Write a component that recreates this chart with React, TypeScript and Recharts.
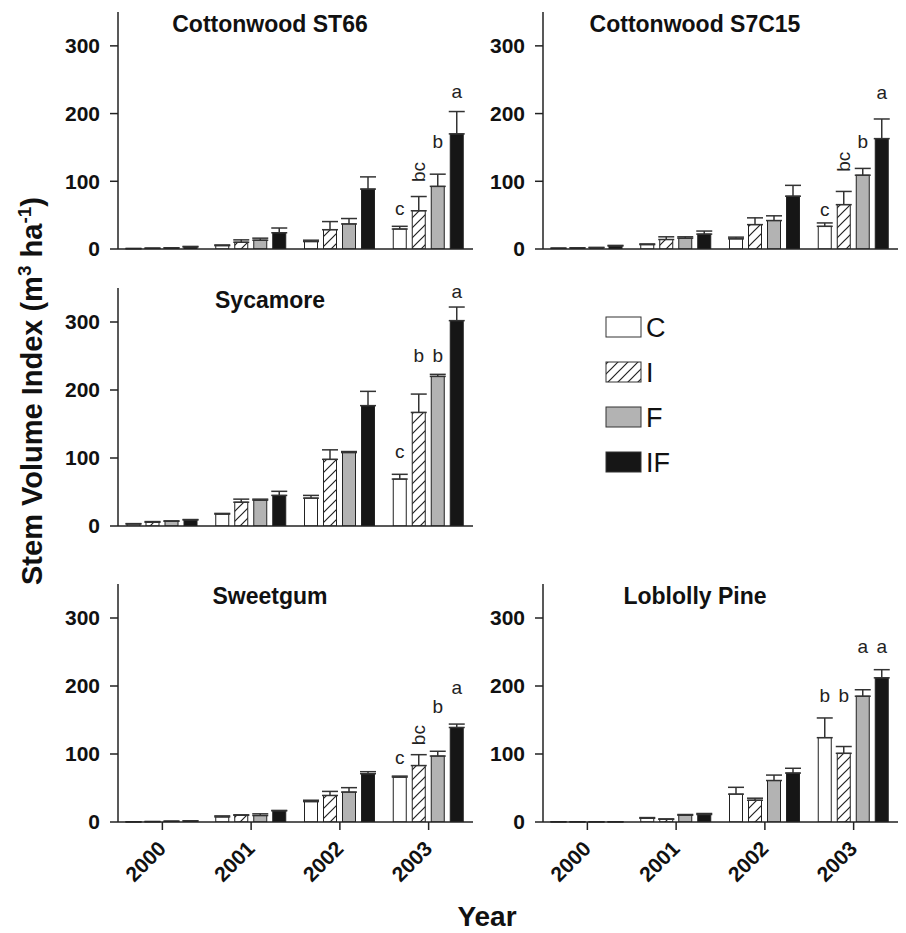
import React from "react";
import { BarChart, Bar, XAxis, YAxis, ErrorBar } from "recharts";

const FONT = "'Liberation Sans', Arial, Helvetica, sans-serif";

const years = ["2000", "2001", "2002", "2003"];
const treatments = ["C", "I", "F", "IF"];
const yTicks = [0, 100, 200, 300];

// Cottonwood ST66 (values per year, then upper error)
const st66C = [0.5, 5, 11, 29.5];
const st66I = [1, 10, 28.5, 56.5];
const st66F = [1.5, 13, 37, 92.5];
const st66IF = [3, 24, 88.5, 170];
const st66CErr = [0.3, 1, 2, 4];
const st66IErr = [0.3, 3.5, 12, 21];
const st66FErr = [0.3, 3, 8, 18];
const st66IFErr = [0.8, 7, 18, 33];
const st66Letters = ["c", "bc", "b", "a"];
const st66LetterAt = [50, 99, 149, 223];

// Cottonwood S7C15
const s7cC = [1, 6.5, 15, 33.5];
const s7cI = [1.5, 14, 36, 65.5];
const s7cF = [2, 16, 42, 109];
const s7cIF = [4.5, 22, 78, 163];
const s7cCErr = [0.3, 1, 2.5, 5];
const s7cIErr = [0.3, 4, 10, 19.5];
const s7cFErr = [0.3, 2, 7, 10];
const s7cIFErr = [0.8, 4.5, 16, 29];
const s7cLetters = ["c", "bc", "b", "a"];
const s7cLetterAt = [49, 114, 149, 222];

// Sycamore
const sycC = [3, 17.5, 41, 69];
const sycI = [5.5, 35, 98, 167];
const sycF = [7, 38, 108, 220];
const sycIF = [9, 45, 177, 302];
const sycCErr = [0.5, 1, 4, 7];
const sycIErr = [1, 4.5, 14, 27];
const sycFErr = [0.5, 1.5, 1.5, 3];
const sycIFErr = [0.5, 6, 21, 20];
const sycLetters = ["c", "b", "b", "a"];
const sycLetterAt = [100, 241, 241, 335];

// Sweetgum
const swgC = [0.2, 7.5, 30, 66];
const swgI = [0.5, 10, 39, 83];
const swgF = [1, 9.5, 44, 97];
const swgIF = [1.5, 16.5, 71, 139];
const swgCErr = [0.2, 1.5, 2, 1.5];
const swgIErr = [0.2, 0.5, 6, 16];
const swgFErr = [0.2, 2.5, 6.5, 7];
const swgIFErr = [0.2, 0.5, 3, 5];
const swgLetters = ["c", "bc", "b", "a"];
const swgLetterAt = [85, 113, 160, 188];

// Loblolly Pine
const lobC = [0.3, 5.5, 41, 124];
const lobI = [0.3, 4, 32, 101];
const lobF = [0.3, 10, 61, 185];
const lobIF = [0.3, 11, 72, 212];
const lobCErr = [0.1, 1, 10, 29];
const lobIErr = [0.1, 0.5, 3, 10];
const lobFErr = [0.1, 1, 8, 9.5];
const lobIFErr = [0.1, 1.5, 7, 12];
const lobLetters = ["b", "b", "a", "a"];
const lobLetterAt = [176, 176, 249, 249];

const fills: Record<string, string> = {
  C: "#ffffff",
  I: "url(#hatch)",
  F: "#b3b3b3",
  IF: "#161616",
};

function buildRows(vals: number[][], errs: number[][]) {
  return years.map((year, i) => {
    const row: any = { year };
    treatments.forEach((t, j) => {
      row[t] = vals[j][i];
      row[t + "_e"] = [0, errs[j][i]];
    });
    return row;
  });
}

const makeShape = (key: string, letter: string, at: number) => (p: any) => {
  const { x, y, width, height, payload } = p;
  const v = payload[key];
  const isLast = payload.year === years[years.length - 1];
  let label = null;
  if (isLast && v > 0 && height > 0) {
    const k = height / v;
    const zeroY = y + height;
    const ty = zeroY - at * k;
    const cx = x + width / 2;
    if (letter.length > 1) {
      label = (
        <text
          x={cx}
          y={ty}
          transform={`rotate(-90, ${cx}, ${ty})`}
          textAnchor="start"
          dominantBaseline="central"
          fontSize={19}
          fontFamily={FONT}
          fill="#222"
        >
          {letter}
        </text>
      );
    } else {
      label = (
        <text x={cx} y={ty} textAnchor="middle" fontSize={19} fontFamily={FONT} fill="#222">
          {letter}
        </text>
      );
    }
  }
  return (
    <g>
      <rect x={x} y={y} width={width} height={Math.max(height, 0)} fill={fills[key]} stroke="#222" strokeWidth={1} />
      {label}
    </g>
  );
};

const YearTick = (p: any) => {
  const tx = p.x + 5;
  const ty = p.y + 18;
  return (
    <text
      x={tx}
      y={ty}
      transform={`rotate(-45, ${tx}, ${ty})`}
      textAnchor="end"
      fontSize={21}
      fontWeight={700}
      fontFamily={FONT}
      fill="#111"
    >
      {p.payload.value}
    </text>
  );
};

interface PanelProps {
  left: number;
  top: number;
  plotH: number;
  rows: any[];
  letters: string[];
  letterAt: number[];
  showYears: boolean;
}

function Panel({ left, top, plotH, rows, letters, letterAt, showYears }: PanelProps) {
  const xH = showYears ? 90 : 30;
  return (
    <div style={{ position: "absolute", left, top }}>
      <BarChart
        width={480}
        height={12 + plotH + xH}
        data={rows}
        margin={{ top: 12, right: 7, left: 58, bottom: 0 }}
        barSize={13}
        barGap={6}
      >
        <XAxis
          dataKey="year"
          height={xH}
          axisLine={{ stroke: "#222", strokeWidth: 1.5 }}
          tickLine={showYears ? { stroke: "#222", strokeWidth: 1.5 } : false}
          tickSize={8}
          tick={showYears ? <YearTick /> : false}
          interval={0}
        />
        <YAxis
          width={60}
          domain={[0, 350]}
          ticks={yTicks}
          allowDataOverflow
          axisLine={{ stroke: "#222", strokeWidth: 1.5 }}
          tickLine={{ stroke: "#222", strokeWidth: 1.5 }}
          tickSize={8}
          tickMargin={10}
          tick={{ fill: "#111", fontSize: 21, fontWeight: 700, fontFamily: FONT }}
        />
        {treatments.map((t, j) => (
          <Bar
            key={t}
            dataKey={t}
            isAnimationActive={false}
            shape={makeShape(t, letters[j], letterAt[j])}
          >
            <ErrorBar dataKey={t + "_e"} width={8} stroke="#333" strokeWidth={1.5} direction="y" />
          </Bar>
        ))}
      </BarChart>
    </div>
  );
}

const panels = [
  {
    title: "Cottonwood ST66",
    left: 0,
    top: 0,
    plotH: 237,
    rows: buildRows([st66C, st66I, st66F, st66IF], [st66CErr, st66IErr, st66FErr, st66IFErr]),
    letters: st66Letters,
    letterAt: st66LetterAt,
    showYears: false,
  },
  {
    title: "Cottonwood S7C15",
    left: 425,
    top: 0,
    plotH: 237,
    rows: buildRows([s7cC, s7cI, s7cF, s7cIF], [s7cCErr, s7cIErr, s7cFErr, s7cIFErr]),
    letters: s7cLetters,
    letterAt: s7cLetterAt,
    showYears: false,
  },
  {
    title: "Sycamore",
    left: 0,
    top: 276,
    plotH: 238,
    rows: buildRows([sycC, sycI, sycF, sycIF], [sycCErr, sycIErr, sycFErr, sycIFErr]),
    letters: sycLetters,
    letterAt: sycLetterAt,
    showYears: false,
  },
  {
    title: "Sweetgum",
    left: 0,
    top: 572,
    plotH: 238,
    rows: buildRows([swgC, swgI, swgF, swgIF], [swgCErr, swgIErr, swgFErr, swgIFErr]),
    letters: swgLetters,
    letterAt: swgLetterAt,
    showYears: true,
  },
  {
    title: "Loblolly Pine",
    left: 425,
    top: 572,
    plotH: 238,
    rows: buildRows([lobC, lobI, lobF, lobIF], [lobCErr, lobIErr, lobFErr, lobIFErr]),
    letters: lobLetters,
    letterAt: lobLetterAt,
    showYears: true,
  },
];

export default function App() {
  return (
    <div style={{ position: "absolute", left: 0, top: 0, width: 906, height: 933, background: "#fff", fontFamily: FONT }}>
      <svg width={0} height={0} style={{ position: "absolute" }}>
        <defs>
          <pattern id="hatch" patternUnits="userSpaceOnUse" width={10} height={10}>
            <rect width={10} height={10} fill="#fff" />
            <path d="M-1,1 l2,-2 M0,10 l10,-10 M9,11 l2,-2" stroke="#222" strokeWidth={1.2} />
          </pattern>
        </defs>
      </svg>
      {panels.map((p) => (
        <Panel
          key={p.title}
          left={p.left}
          top={p.top}
          plotH={p.plotH}
          rows={p.rows}
          letters={p.letters}
          letterAt={p.letterAt}
          showYears={p.showYears}
        />
      ))}
      <svg width={906} height={933} style={{ position: "absolute", left: 0, top: 0, pointerEvents: "none" }}>
        {panels.map((p) => (
          <text
            key={p.title}
            x={p.left + 270}
            y={p.top + 12 + 20}
            textAnchor="middle"
            fontSize={23}
            fontWeight={700}
            fontFamily={FONT}
            fill="#111"
          >
            {p.title}
          </text>
        ))}
        <text
          transform="translate(42, 391) rotate(-90)"
          textAnchor="middle"
          fontSize={29}
          fontWeight={700}
          fontFamily={FONT}
          fill="#111"
        >
          Stem Volume Index (m
          <tspan dy={-11} fontSize={19}>3</tspan>
          <tspan dy={11}>{"  ha"}</tspan>
          <tspan dy={-11} fontSize={19}>-1</tspan>
          <tspan dy={11}>)</tspan>
        </text>
        <text x={487} y={926} textAnchor="middle" fontSize={28} fontWeight={700} fontFamily={FONT} fill="#111">
          Year
        </text>
        {treatments.map((t, j) => (
          <g key={t}>
            <rect x={606} y={317 + j * 45} width={35} height={20} fill={fills[t]} stroke="#333" strokeWidth={1} />
            <text x={646} y={337 + j * 45} fontSize={27} fontFamily={FONT} fill="#111">
              {t}
            </text>
          </g>
        ))}
      </svg>
    </div>
  );
}
